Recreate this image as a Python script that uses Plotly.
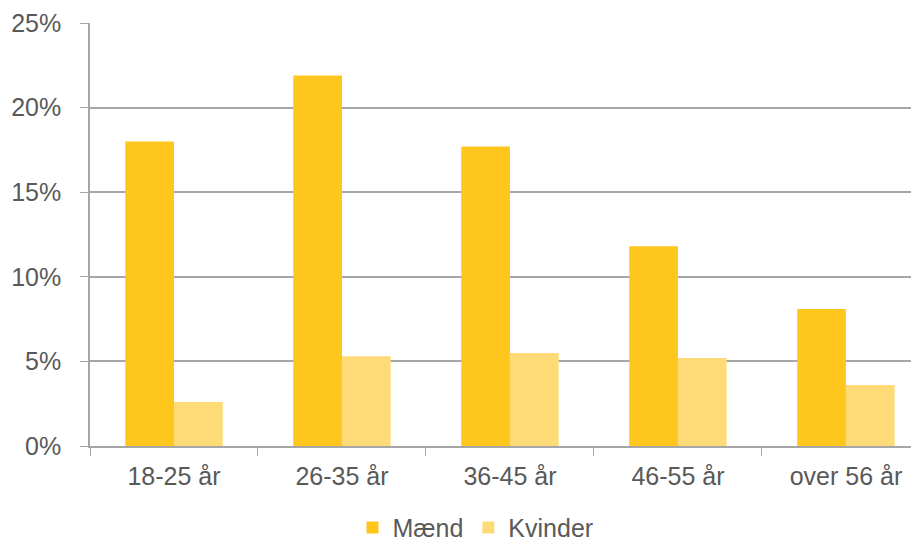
import plotly.graph_objects as go

categories = ["18-25 år", "26-35 år", "36-45 år", "46-55 år", "over 56 år"]
maend = [18.0, 21.9, 17.7, 11.8, 8.1]
kvinder = [2.6, 5.3, 5.5, 5.2, 3.6]
y_ticks = [0, 5, 10, 15, 20, 25]
y_labels = [f"{v}%" for v in y_ticks]

fig = go.Figure()
fig.add_trace(go.Bar(name="Mænd", x=categories, y=maend, marker=dict(color="#FFC61E", line=dict(width=0))))
fig.add_trace(go.Bar(name="Kvinder", x=categories, y=kvinder, marker=dict(color="#FFDB78", line=dict(width=0))))

font_color = "#595959"
grid_color = "#A6A6A6"
fs = 25

fig.update_layout(
    width=911, height=542,
    margin=dict(l=82, r=0, t=15, b=104, autoexpand=False),
    paper_bgcolor="white", plot_bgcolor="white",
    barmode="group", bargap=0.42, bargroupgap=0,
    font=dict(family="Liberation Sans, Arial, sans-serif", size=fs, color=font_color),
    showlegend=True,
    legend=dict(orientation="h", x=0.465, xanchor="center", yref="container", y=0.041, yanchor="middle",
                font=dict(size=fs, color=font_color), itemwidth=30, traceorder="normal",
                bgcolor="rgba(0,0,0,0)"),
    xaxis=dict(
        range=[-0.5, 4.435], tickson="boundaries", ticks="outside", ticklen=8,
        tickcolor=grid_color, showline=True, linecolor=grid_color, linewidth=1.5,
        showgrid=False, tickfont=dict(size=fs, color=font_color), fixedrange=True,
        ticklabelstandoff=7,
    ),
    yaxis=dict(
        range=[0, 25], tickvals=y_ticks, ticktext=y_labels, ticks="outside", ticklen=8,
        tickcolor=grid_color, showline=True, linecolor=grid_color, linewidth=1.5,
        showgrid=True, gridcolor=grid_color, gridwidth=1.5, zeroline=False,
        tickfont=dict(size=fs, color=font_color), ticklabelstandoff=14, fixedrange=True,
    ),
)

fig.write_html("out.html")
